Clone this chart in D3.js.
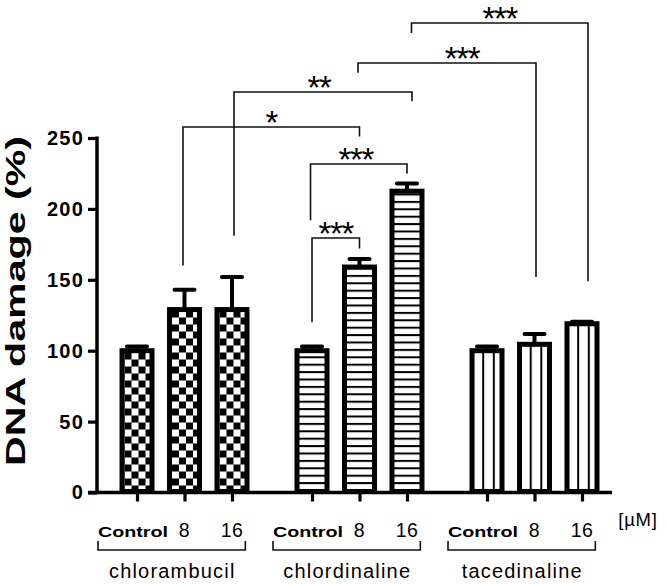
<!DOCTYPE html>
<html><head><meta charset="utf-8">
<script src="https://cdn.jsdelivr.net/npm/d3@7"></script>
<style>
body{margin:0;background:#fff}
svg{display:block}
text{font-family:Arial,"Liberation Sans",sans-serif;fill:#000}
</style>
</head><body>
<svg id="c" width="666" height="584"></svg>
<script>
// ---------- data ----------
const groups = ["chlorambucil", "chlordinaline", "tacedinaline"];
const doses = ["Control", "8", "16"];
const chlorambucilMean = [100, 129, 129];
const chlorambucilSem = [3, 14, 23];
const chlordinalineMean = [100, 159, 212.5];
const chlordinalineSem = [3, 5.7, 5.5];
const tacedinalineMean = [100, 104.5, 119];
const tacedinalineSem = [3, 7.3, 1.5];
const yTicks = [0, 50, 100, 150, 200, 250];
const unitLabel = "[µM]";
const yTitle = "DNA damage (%)";
// significance comparisons: [groupIndex, doseIndex]
const sigLabels = ["***", "***", "*", "**", "***", "***"];
const sigFrom = [[1,0],[1,0],[0,1],[0,2],[1,1],[1,2]];
const sigTo   = [[1,1],[1,2],[1,1],[1,2],[2,1],[2,2]];
const sigLevel   = [179.5, 231.7, 257.8, 282.4, 302.9, 331.1];
const sigFromEnd = [120, 192, 160, 181, 296, 324];
const sigToEnd   = [172, 225, 251, 276, 152, 149];

const means = [chlorambucilMean, chlordinalineMean, tacedinalineMean];
const sems = [chlorambucilSem, chlordinalineSem, tacedinalineSem];
const bars = [];
groups.forEach((g, gi) => doses.forEach((d, di) => bars.push({g, gi, d, di, v: means[gi][di], e: sems[gi][di]})));

// ---------- layout ----------
const svg = d3.select("#c");
const axisX = 97;
const y = d3.scaleLinear().domain([0, 250]).range([492.5, 138]);
const x0 = d3.scaleBand().domain(groups).range([97, 622]);
const x1 = d3.scaleBand().domain(doses).range([0, x0.bandwidth()]).paddingInner(0.263).paddingOuter(0.474);
const cx = (gi, di) => x0(groups[gi]) + x1(doses[di]) + x1.bandwidth() / 2;
const bw = x1.bandwidth();
const SW = 5;

// ---------- patterns ----------
const defs = svg.append("defs");
bars.forEach((b, i) => {
  const left = x0(b.g) + x1(b.d) + SW;
  const p = defs.append("pattern").attr("id", "p" + i).attr("patternUnits", "userSpaceOnUse");
  if (b.gi === 0) {
    p.attr("width", 14).attr("height", 14).attr("x", left).attr("y", y(0));
    p.append("rect").attr("width", 14).attr("height", 14).attr("fill", "#fff");
    p.append("rect").attr("width", 7).attr("height", 7).attr("fill", "#000");
    p.append("rect").attr("x", 7).attr("y", 7).attr("width", 7).attr("height", 7).attr("fill", "#000");
  } else if (b.gi === 1) {
    p.attr("width", 10).attr("height", 7.4).attr("x", 0).attr("y", y(0) - 3);
    p.append("rect").attr("width", 10).attr("height", 7.4).attr("fill", "#fff");
    p.append("rect").attr("y", 0).attr("width", 10).attr("height", 2).attr("fill", "#000");
  } else {
    p.attr("width", 10.6).attr("height", 10).attr("x", left + 7.7).attr("y", 0);
    p.append("rect").attr("width", 10.6).attr("height", 10).attr("fill", "#fff");
    p.append("rect").attr("width", 2).attr("height", 10).attr("fill", "#000");
  }
});

// ---------- bars ----------
svg.append("g").selectAll("rect").data(bars).join("rect")
  .attr("x", b => x0(b.g) + x1(b.d) + SW / 2)
  .attr("y", b => y(b.v))
  .attr("width", bw - SW)
  .attr("height", b => y(0) - y(b.v) - 1)
  .attr("fill", (b, i) => `url(#p${i})`)
  .attr("stroke", "#000").attr("stroke-width", SW);

// error bars
const eb = svg.append("g").attr("stroke", "#000");
eb.selectAll("line.stem").data(bars).join("line").attr("class", "stem")
  .attr("x1", b => cx(b.gi, b.di)).attr("x2", b => cx(b.gi, b.di))
  .attr("y1", b => y(b.v)).attr("y2", b => y(b.v + b.e)).attr("stroke-width", 4);
eb.selectAll("line.cap").data(bars).join("line").attr("class", "cap")
  .attr("x1", b => cx(b.gi, b.di) - 10).attr("x2", b => cx(b.gi, b.di) + 10)
  .attr("y1", b => y(b.v + b.e)).attr("y2", b => y(b.v + b.e)).attr("stroke-width", 4)
  .attr("stroke-linecap", "round");

// ---------- axes ----------
const yAxis = svg.append("g").attr("transform", `translate(${axisX},0)`)
  .call(d3.axisLeft(y).tickValues(yTicks).tickSize(9).tickSizeOuter(0).tickPadding(4));
yAxis.select(".domain").attr("stroke-width", 3.5).attr("d", `M0,${y(0) + 1.5}V${y(250) - 1.5}`);
yAxis.selectAll(".tick line").attr("stroke-width", 3.2);
yAxis.selectAll(".tick text").attr("font-size", 20).attr("font-weight", "bold")
  .attr("letter-spacing", 1.2).attr("font-family", "Arial, 'Liberation Sans', sans-serif");

// x axis line
svg.append("line").attr("x1", 88).attr("x2", 612).attr("y1", y(0)).attr("y2", y(0))
  .attr("stroke", "#000").attr("stroke-width", 3.5);
const xPos = d3.scaleOrdinal().domain(bars.map((b, i) => i)).range(bars.map(b => cx(b.gi, b.di)));
const xAxis = svg.append("g").attr("transform", `translate(0,${y(0)})`)
  .call(d3.axisBottom(xPos).tickSize(9).tickFormat(""));
xAxis.select(".domain").remove();
xAxis.selectAll(".tick line").attr("stroke-width", 3.2);

// dose labels
const labelY = 536.5;
const doseG = svg.append("g");
const groupSpans = groups.map(() => ({l: Infinity, r: -Infinity}));
bars.forEach(b => {
  const t = doseG.append("text").attr("x", cx(b.gi, b.di) - (b.di === 0 ? 4 : 0)).attr("y", labelY)
    .attr("text-anchor", "middle").text(b.d);
  if (b.di === 0) {
    t.attr("font-size", 14).attr("font-weight", "bold").attr("textLength", 70).attr("lengthAdjust", "spacingAndGlyphs");
  } else {
    t.attr("font-size", 19.5).attr("letter-spacing", 0.5);
  }
  const bb = t.node().getBBox();
  groupSpans[b.gi].l = Math.min(groupSpans[b.gi].l, bb.x);
  groupSpans[b.gi].r = Math.max(groupSpans[b.gi].r, bb.x + bb.width);
});

// group brackets and names
const gb = svg.append("g");
groups.forEach((g, gi) => {
  const l = groupSpans[gi].l, r = groupSpans[gi].r + 2;
  gb.append("path").attr("d", `M${l},541V550H${r}V541`).attr("fill", "none")
    .attr("stroke", "#111").attr("stroke-width", 1.6);
  gb.append("text").attr("x", (l + r) / 2 + 0.6).attr("y", 578).attr("text-anchor", "middle")
    .attr("font-size", 20).attr("letter-spacing", 1.2).text(g);
});
svg.append("text").attr("x", 638).attr("y", 526).attr("text-anchor", "middle")
  .attr("font-size", 18.5).attr("letter-spacing", 0.8).text(unitLabel);

// y title
svg.append("text").attr("transform", "translate(25,301) rotate(-90)").attr("text-anchor", "middle")
  .attr("font-size", 27).attr("font-weight", "bold")
  .attr("textLength", 330).attr("lengthAdjust", "spacingAndGlyphs").text(yTitle);

// ---------- significance brackets ----------
const labelNudge = [0, -3, 0, -4, 15, 0];
const legNudgeFrom = [0, -1.5, -1.5, 2, -1.5, 4.5];
const legNudgeTo = [0, 0, 0, 5, 1.5, 6];
const sg = svg.append("g");
sigLabels.forEach((lab, i) => {
  const xa = cx(sigFrom[i][0], sigFrom[i][1]) + legNudgeFrom[i];
  const xb = cx(sigTo[i][0], sigTo[i][1]) + legNudgeTo[i];
  const yl = y(sigLevel[i]);
  sg.append("path").attr("d", `M${xa},${y(sigFromEnd[i])}V${yl}H${xb}V${y(sigToEnd[i])}`)
    .attr("fill", "none").attr("stroke", "#111").attr("stroke-width", 1.6);
  sg.append("text").attr("x", (xa + xb) / 2 + labelNudge[i]).attr("y", yl + 7)
    .attr("text-anchor", "middle").attr("font-size", 33).attr("letter-spacing", -1.3).text(lab);
});
</script>
</body></html>
